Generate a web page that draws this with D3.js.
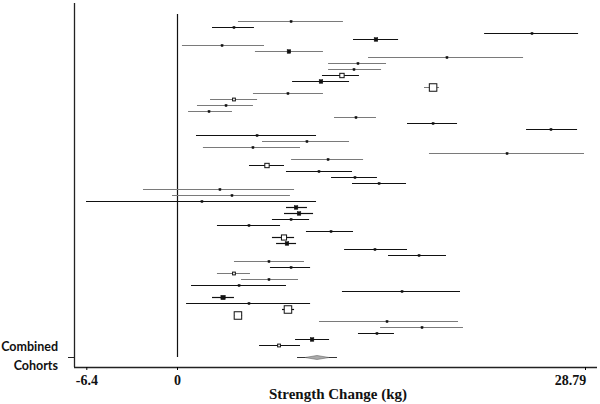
<!DOCTYPE html>
<html>
<head>
<meta charset="utf-8">
<script src="https://cdn.jsdelivr.net/npm/d3@7"></script>
<style>
  body { margin: 0; background: #fff; }
  .tick text { font-family: "Liberation Serif", serif; font-weight: bold; font-size: 14px; }
</style>
</head>
<body>
<div id="forest"></div>
<script>
// per-cohort strength change estimates (kg) with lower / upper CI
var est = [8.05, 4.02, 25.05, 14.04, 3.18, 7.90, 19.05, 12.77, 12.49, 11.64,
           10.16, 18.07, 7.83, 4.02, 3.46, 2.26, 12.63, 18.07, 26.39, 5.65,
           9.17, 5.36, 23.29, 10.66, 6.35, 10.02, 12.56, 14.26, 3.03, 3.88,
           1.76, 8.40, 8.61, 8.05, 5.08, 10.87, 7.55, 7.76, 13.97, 17.08,
           6.49, 8.05, 4.02, 6.49, 4.38, 15.88, 3.25, 5.08, 7.83, 4.30,
           14.82, 17.29, 14.11, 9.53, 7.20];
var lower = [4.30, 2.47, 21.67, 12.42, 0.35, 5.50, 13.48, 10.66, 10.66, 10.23,
             8.12, 17.43, 5.36, 2.33, 1.41, 0.78, 11.08, 16.23, 24.63, 1.34,
             6.00, 1.83, 17.78, 8.05, 5.08, 7.69, 10.87, 12.35, -2.40, -0.35,
             -6.42, 7.69, 7.55, 6.70, 2.82, 9.10, 6.70, 6.99, 11.79, 14.89,
             4.02, 6.56, 2.82, 4.52, 0.99, 11.64, 2.47, 0.64, 7.41, 4.02,
             10.02, 14.33, 12.77, 8.33, 5.79];
var upper = [11.71, 5.43, 28.30, 15.60, 6.14, 10.30, 24.42, 14.75, 14.40, 12.84,
             12.14, 18.49, 10.30, 5.65, 5.36, 3.88, 14.04, 19.76, 28.23, 9.81,
             12.14, 8.68, 28.72, 13.13, 7.55, 12.35, 14.11, 16.16, 8.26, 7.97,
             9.81, 9.17, 9.60, 9.32, 7.27, 12.42, 8.26, 8.40, 16.23, 18.98,
             8.96, 9.39, 5.15, 8.54, 7.69, 19.97, 4.02, 9.39, 8.26, 4.59,
             19.83, 20.18, 15.31, 10.73, 8.68];
// relative weight of each cohort (box size)
var weight = [1, 1, 1, 3, 1, 3, 1, 1, 1, 4,
              3, 8, 1, 2, 1, 1, 1, 1, 1, 1,
              1, 1, 1, 1, 4, 1, 1, 1, 1, 1,
              1, 3, 3, 1, 1, 1, 5, 3, 1, 1,
              1, 1, 2, 1, 1, 1, 4, 1, 8, 8,
              1, 1, 1, 3, 2];
// box style: f = filled, o = open
var boxType = ["f","f","f","f","f","f","f","f","f","o",
               "f","o","f","o","f","f","f","f","f","f",
               "f","f","f","f","o","f","f","f","f","f",
               "f","f","f","f","f","f","o","f","f","f",
               "f","f","o","f","f","f","f","f","o","o",
               "f","f","f","f","o"];
// cohort group: a = dark line, b = light line
var group = ["b","a","a","a","b","b","b","b","b","a",
             "a","b","b","b","b","b","b","a","a","a",
             "b","b","b","b","a","a","a","a","b","b",
             "a","a","a","a","a","a","a","a","a","a",
             "b","a","b","b","a","a","a","a","a","a",
             "b","b","a","a","a"];
var combined = {label: ["Combined", "Cohorts"], est: 9.88, lower: 8.47, upper: 11.29};
var xTicks = [-6.4, 0, 28.79];
var xTitle = "Strength Change (kg)";

var width = 600, height = 404;

var svg = d3.select("#forest").append("svg")
    .attr("width", width)
    .attr("height", height);

var x = d3.scaleLinear().domain([0, 28.79]).range([177, 585]);
var y = d3.scaleLinear().domain([0, 56]).range([20.7, 357]);
var size = d3.scaleLinear().domain([1, 8]).range([2, 7.5]);
var lineColor = d3.scaleOrdinal().domain(["a", "b"]).range(["#111", "#7a7a7a"]);
var boxFill = d3.scaleOrdinal().domain(["f", "o"]).range(["#111", "#fff"]);

var rows = est.map(function(d, i) {
    return {est: d, lower: lower[i], upper: upper[i], w: weight[i], box: boxType[i], g: group[i], y: Math.round(y(i)) + 0.5};
});

// left frame line
svg.append("line")
    .attr("x1", 74.5).attr("x2", 74.5)
    .attr("y1", 3).attr("y2", 367)
    .attr("stroke", "#222").attr("stroke-width", 1.3);

// y tick for combined row
svg.append("line")
    .attr("x1", 68).attr("x2", 74)
    .attr("y1", Math.round(y(56)) + 0.5).attr("y2", Math.round(y(56)) + 0.5)
    .attr("stroke", "#222");

// x axis
var xAxis = svg.append("g")
    .attr("transform", "translate(0,367)")
    .call(d3.axisBottom(x).tickValues(xTicks).tickSize(3).tickFormat(function(d) { return d; }));
xAxis.select(".domain").attr("d", "M74,0.5H597").attr("stroke", "#222").attr("stroke-width", 1.3);
xAxis.selectAll(".tick text").attr("dy", "0.85em").attr("fill", "#111");
xAxis.selectAll(".tick").filter(function(d) { return d === 28.79; })
    .select("text").attr("x", -15);

svg.append("text")
    .attr("x", 338).attr("y", 399)
    .attr("text-anchor", "middle")
    .style("font-family", "'Liberation Serif', serif")
    .style("font-weight", "bold")
    .style("font-size", "15px")
    .attr("fill", "#111")
    .text(xTitle);

// no-effect line
svg.append("line")
    .attr("x1", x(0) + 0.5).attr("x2", x(0) + 0.5)
    .attr("y1", 14).attr("y2", 357)
    .attr("stroke", "#111").attr("stroke-width", 1.2);

var g = svg.selectAll(".study")
    .data(rows)
    .enter().append("g")
    .attr("class", "study");

g.append("line")
    .attr("x1", function(d) { return x(d.lower); })
    .attr("x2", function(d) { return x(d.upper); })
    .attr("y1", function(d) { return d.y; })
    .attr("y2", function(d) { return d.y; })
    .attr("stroke", function(d) { return lineColor(d.g); })
    .attr("stroke-width", function(d) { return d.g === "a" ? 1.2 : 1; });

g.append("rect")
    .attr("x", function(d) { return x(d.est) - size(d.w) / 2; })
    .attr("y", function(d) { return d.y - size(d.w) / 2; })
    .attr("width", function(d) { return size(d.w); })
    .attr("height", function(d) { return size(d.w); })
    .attr("fill", function(d) { return boxFill(d.box); })
    .attr("stroke", "#111")
    .attr("stroke-width", function(d) { return d.box === "o" ? 1 : 0.5; });

// combined estimate
var cy = Math.round(y(56)) + 0.5;
svg.append("line")
    .attr("x1", x(combined.lower)).attr("x2", x(combined.upper))
    .attr("y1", cy).attr("y2", cy)
    .attr("stroke", "#333").attr("stroke-width", 1.2);
svg.append("path")
    .attr("d", "M" + (x(combined.est) - 12) + "," + cy +
               "L" + x(combined.est) + "," + (cy - 2) +
               "L" + (x(combined.est) + 12) + "," + cy +
               "L" + x(combined.est) + "," + (cy + 2) + "Z")
    .attr("fill", "#aaa").attr("stroke", "#666").attr("stroke-width", 0.6);

svg.append("g")
    .selectAll("text")
    .data(combined.label)
    .enter().append("text")
    .attr("x", 58)
    .attr("y", function(d, i) { return 351 + i * 19; })
    .attr("text-anchor", "end")
    .style("font-family", "Lato, sans-serif")
    .style("font-weight", "bold")
    .style("font-size", "12.5px")
    .attr("fill", "#111")
    .text(function(d) { return d; });
</script>
</body>
</html>
